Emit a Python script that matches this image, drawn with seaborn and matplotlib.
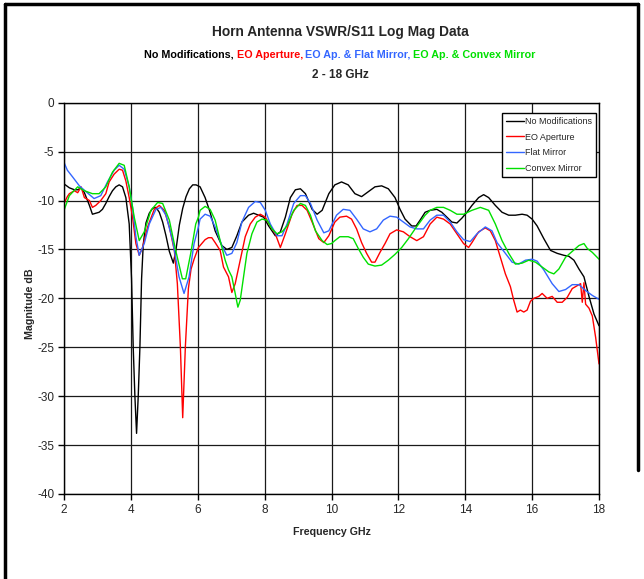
import pandas as pd
import matplotlib.pyplot as plt
import seaborn as sns
from matplotlib.lines import Line2D

# ---- data (GHz, dB) ----
no_mod_freq = [2.0, 2.16, 2.31, 2.41, 2.51, 2.61, 2.76, 2.85, 2.95, 3.05, 3.15, 3.25, 3.35, 3.45,
               3.55, 3.65, 3.75, 3.85, 3.95, 4.02, 4.07, 4.12, 4.17, 4.22, 4.27, 4.32, 4.37, 4.45,
               4.55, 4.65, 4.75, 4.85, 4.95, 5.05, 5.15, 5.27, 5.35, 5.45, 5.55, 5.65, 5.75, 5.85,
               5.95, 6.07, 6.22, 6.37, 6.52, 6.72, 6.87, 7.02, 7.17, 7.32, 7.52, 7.67, 7.82, 7.97,
               8.12, 8.32, 8.47, 8.62, 8.77, 8.92, 9.07, 9.22, 9.42, 9.57, 9.72, 9.92, 10.1, 10.3,
               10.5, 10.7, 10.9, 11.1, 11.3, 11.5, 11.7, 11.9, 12.05, 12.2, 12.4, 12.53, 12.65,
               12.8, 12.95, 13.15, 13.3, 13.45, 13.6, 13.75, 13.9, 14.05, 14.2, 14.4, 14.55, 14.7,
               14.9, 15.1, 15.3, 15.5, 15.7, 15.85, 16.0, 16.15, 16.35, 16.55, 16.75, 16.95, 17.1,
               17.25, 17.4, 17.55, 17.7, 17.85, 18.0]
no_mod_db = [-8.3, -8.7, -8.9, -8.9, -8.7, -9.2, -10.5, -11.4, -11.3, -11.2, -10.9, -10.3, -9.6, -9.0,
             -8.6, -8.4, -8.6, -9.7, -12.4, -18.0, -25.0, -30.0, -33.8, -30.0, -25.0, -18.0, -14.5, -12.3,
             -11.3, -10.8, -10.7, -11.2, -12.2, -13.6, -15.2, -16.4, -15.0, -12.5, -10.8, -9.6, -8.8, -8.4,
             -8.4, -8.6, -9.7, -11.2, -13.1, -14.6, -15.0, -14.8, -13.6, -12.2, -11.5, -11.3, -11.5, -11.7,
             -12.6, -13.6, -13.2, -11.7, -9.7, -8.9, -8.8, -9.3, -10.9, -11.4, -11.0, -9.3, -8.4, -8.1,
             -8.4, -9.3, -9.6, -9.1, -8.6, -8.5, -8.8, -9.7, -10.9, -11.9, -12.6, -12.6, -12.0,
             -11.2, -11.0, -10.9, -11.2, -11.7, -12.2, -12.3, -11.8, -11.2, -10.5, -9.7, -9.4, -9.7,
             -10.5, -11.2, -11.5, -11.5, -11.4, -11.5, -11.9, -12.6, -13.9, -15.1, -15.4, -15.6, -15.7,
             -16.1, -17.0, -17.8, -19.8, -21.6, -22.8]

eo_ap_freq = [2.0, 2.1, 2.16, 2.31, 2.41, 2.51, 2.61, 2.76, 2.85, 2.95, 3.1, 3.25, 3.35, 3.5, 3.65,
              3.75, 3.85, 3.95, 4.05, 4.15, 4.25, 4.35, 4.5, 4.7, 4.85, 5.0, 5.15, 5.3, 5.39, 5.48,
              5.55, 5.63, 5.72, 5.8, 5.89, 6.02, 6.12, 6.22, 6.32, 6.42, 6.52, 6.67, 6.77, 6.92,
              7.02, 7.12, 7.27, 7.42, 7.57, 7.72, 7.87, 8.02, 8.17, 8.32, 8.47, 8.62, 8.82, 8.97,
              9.12, 9.27, 9.42, 9.62, 9.77, 9.92, 10.1, 10.25, 10.45, 10.6, 10.75, 10.9, 11.05,
              11.2, 11.3, 11.45, 11.6, 11.75, 11.95, 12.15, 12.35, 12.55, 12.75, 12.95, 13.15,
              13.35, 13.55, 13.75, 13.95, 14.1, 14.2, 14.4, 14.6, 14.75, 14.9, 15.05, 15.2, 15.35,
              15.45, 15.55, 15.65, 15.75, 15.85, 15.95, 16.05, 16.2, 16.3, 16.45, 16.6, 16.75, 16.9,
              17.05, 17.2, 17.35, 17.45, 17.5, 17.55, 17.6, 17.7, 17.8, 17.9, 18.0]
eo_ap_db = [-10.3, -9.6, -9.3, -9.0, -9.2, -8.6, -9.7, -10.0, -10.7, -10.5, -10.0, -9.3, -8.1, -7.3, -6.8,
            -6.9, -8.0, -9.7, -11.7, -14.4, -15.6, -14.8, -12.7, -10.9, -10.5, -11.0, -12.7, -15.1, -18.5, -24.9,
            -32.2, -24.9, -19.0, -17.0, -16.0, -14.8, -14.4, -14.0, -13.8, -13.8, -14.3, -15.1, -16.8, -17.8,
            -19.4, -18.5, -16.1, -13.7, -12.4, -11.7, -11.4, -11.7, -12.6, -13.4, -14.8, -13.4, -11.4, -10.5,
            -10.5, -11.0, -12.2, -13.9, -14.3, -13.6, -12.2, -11.7, -11.6, -11.9, -12.9, -14.3, -15.4,
            -16.3, -16.3, -15.3, -14.4, -13.4, -13.0, -13.2, -13.7, -14.1, -13.7, -12.4, -11.7,
            -11.9, -12.4, -13.4, -14.4, -14.8, -14.3, -13.2, -12.8, -13.1, -14.1, -15.8, -17.5, -18.8,
            -20.2, -21.4, -21.2, -21.4, -21.2, -20.3, -20.0, -19.8, -19.5, -20.0, -19.8, -20.4, -20.4,
            -19.9, -19.0, -18.7, -18.5, -20.4, -18.4, -20.6, -21.0, -21.8, -24.0, -26.7]

flat_freq = [2.0, 2.1, 2.26, 2.46, 2.66, 2.9, 3.1, 3.3, 3.5, 3.65, 3.8, 3.95, 4.05, 4.15, 4.25, 4.4,
             4.55, 4.75, 4.9, 5.05, 5.25, 5.44, 5.59, 5.74, 5.89, 6.02, 6.07, 6.22, 6.37, 6.52, 6.72,
             6.87, 7.02, 7.17, 7.32, 7.52, 7.72, 7.87, 8.02, 8.17, 8.37, 8.52, 8.67, 8.87, 9.07, 9.22,
             9.37, 9.57, 9.77, 9.92, 10.15, 10.35, 10.55, 10.75, 10.95, 11.15, 11.35, 11.55, 11.75,
             11.95, 12.15, 12.35, 12.55, 12.75, 12.95, 13.15, 13.35, 13.55, 13.75, 13.95, 14.15,
             14.35, 14.6, 14.8, 14.95, 15.2, 15.4, 15.6, 15.8, 16.0, 16.15, 16.35, 16.6, 16.8, 17.0,
             17.2, 17.4, 17.6, 17.8, 18.0]
flat_db = [-6.1, -6.9, -7.6, -8.5, -9.1, -9.8, -9.5, -8.1, -6.9, -6.4, -6.8, -8.6, -10.7, -13.7, -15.6, -14.4,
           -12.4, -10.9, -10.7, -11.5, -14.1, -17.8, -19.5, -17.8, -14.4, -12.7, -11.9, -11.4, -11.6, -12.7, -14.6,
           -15.6, -15.4, -14.3, -12.2, -10.7, -10.1, -10.2, -11.0, -12.4, -13.6, -13.6, -12.4, -10.3, -9.5, -9.5,
           -10.3, -12.0, -13.3, -13.1, -11.5, -10.9, -11.0, -11.9, -12.9, -13.2, -12.9, -12.0, -11.6,
           -11.7, -12.2, -12.7, -12.9, -12.9, -12.0, -11.5, -11.5, -12.2, -13.2, -14.0, -14.2,
           -13.4, -12.7, -13.1, -14.3, -15.4, -16.3, -16.5, -16.1, -16.0, -16.2, -17.1, -18.5, -19.3, -19.1,
           -18.6, -18.6, -19.2, -19.7, -20.1]

convex_freq = [2.0, 2.16, 2.41, 2.61, 2.85, 3.05, 3.25, 3.45, 3.65, 3.8, 3.95, 4.1, 4.25, 4.4, 4.6,
               4.8, 4.95, 5.15, 5.34, 5.54, 5.64, 5.79, 5.94, 6.02, 6.07, 6.22, 6.37, 6.52, 6.67,
               6.82, 6.92, 7.02, 7.12, 7.2, 7.27, 7.37, 7.47, 7.62, 7.77, 7.92, 8.07, 8.22, 8.37,
               8.52, 8.67, 8.87, 9.07, 9.22, 9.37, 9.52, 9.72, 9.87, 10.0, 10.1, 10.25, 10.5, 10.65,
               10.8, 10.95, 11.1, 11.3, 11.5, 11.7, 11.9, 12.1, 12.3, 12.5, 12.65, 12.8, 12.95,
               13.15, 13.35, 13.55, 13.75, 13.95, 14.2, 14.45, 14.7, 14.9, 15.1, 15.3, 15.5, 15.7,
               15.9, 16.1, 16.3, 16.5, 16.65, 16.8, 17.0, 17.2, 17.4, 17.55, 17.65, 17.8, 18.0]
convex_db = [-11.0, -9.5, -8.6, -9.0, -9.3, -9.3, -8.6, -7.1, -6.2, -6.4, -8.6, -11.7, -14.1, -13.2, -11.0,
             -10.2, -10.3, -12.0, -15.1, -18.0, -18.0, -15.4, -12.4, -11.7, -11.0, -10.6, -10.9, -12.0, -14.1,
             -16.1, -17.1, -17.8, -19.5, -20.9, -20.2, -17.8, -15.4, -13.4, -12.2, -11.9, -12.0, -12.9, -13.4,
             -13.2, -12.6, -11.0, -10.3, -10.5, -11.5, -13.1, -14.1, -14.5, -14.4, -14.1, -13.7, -13.7, -13.9,
             -14.9, -15.8, -16.5, -16.7, -16.6, -16.1, -15.5, -14.8, -13.9, -12.9, -12.2, -11.5, -11.0,
             -10.7, -10.7, -11.0, -11.4, -11.4, -11.0, -10.7, -11.0, -12.4, -14.1, -15.4, -16.5, -16.4,
             -16.1, -16.3, -16.8, -17.3, -17.5, -17.0, -15.8, -15.2, -14.6, -14.4, -14.9, -15.3, -16.0]

series_names = ['No Modifications', 'EO Aperture', 'Flat Mirror', 'Convex Mirror']
series_colors = ['#000000', '#FF0000', '#3366FF', '#00E000']

x_ticks = [2, 4, 6, 8, 10, 12, 14, 16, 18]
y_ticks = [0, -5, -10, -15, -20, -25, -30, -35, -40]

subtitle_parts = ['No Modifications,', 'EO Aperture,', 'EO Ap. & Flat Mirror,', 'EO Ap. & Convex Mirror']

# long table for seaborn
chart_data = pd.concat([
    pd.DataFrame({'freq': no_mod_freq, 'db': no_mod_db, 'series': series_names[0]}),
    pd.DataFrame({'freq': eo_ap_freq, 'db': eo_ap_db, 'series': series_names[1]}),
    pd.DataFrame({'freq': flat_freq, 'db': flat_db, 'series': series_names[2]}),
    pd.DataFrame({'freq': convex_freq, 'db': convex_db, 'series': series_names[3]}),
], ignore_index=True)

sns.set_style('white')
plt.rcParams['font.family'] = ['Liberation Sans', 'DejaVu Sans']
plt.rcParams['axes.unicode_minus'] = False

W, H = 644, 579
fig = plt.figure(figsize=(W / 100, H / 100), dpi=100)
ax = fig.add_axes([64 / W, 1 - 494 / H, (599 - 64) / W, (494 - 102.7) / H])

sns.lineplot(data=chart_data, x='freq', y='db', hue='series',
             hue_order=series_names, palette=dict(zip(series_names, series_colors)),
             estimator=None, sort=False, linewidth=1, ax=ax, legend=False)

ax.set_xlim(2, 18)
ax.set_ylim(-40, 0)
ax.set_xticks(x_ticks)
ax.set_yticks(y_ticks)
ax.tick_params(axis='both', labelsize=8.5, direction='out', length=4, width=1,
               color='black', left=True, bottom=True, pad=3)
ax.grid(True, color='#1a1a1a', lw=0.9)
for sp in ax.spines.values():
    sp.set_color('black')
    sp.set_linewidth(1)

ax.set_xlabel('Frequency GHz', fontsize=7.7, fontweight='bold')
ax.set_ylabel('Magnitude dB', fontsize=7.7, fontweight='bold')
ax.xaxis.set_label_coords(0.5, (494 - 527) / 391.3)
ax.yaxis.set_label_coords((35 - 64) / 535, (494 - 304) / 391.3)

handles = [Line2D([], [], color=c, lw=1) for c in series_colors]
leg = ax.legend(handles, series_names, loc='upper right', bbox_to_anchor=(0.9944, 0.9744),
                borderaxespad=0, fontsize=6.5, handlelength=2.0, handletextpad=0.1,
                labelspacing=0.75, borderpad=0.45, fancybox=False, framealpha=1)
leg.get_frame().set_edgecolor('black')
leg.get_frame().set_linewidth(1)

# titles
cx = 340 / W
fig.text(cx, 1 - 32 / H, 'Horn Antenna VSWR/S11 Log Mag Data', ha='center', va='center',
         fontsize=9.9, fontweight='bold')
fig.text(cx, 1 - 75 / H, '2 - 18 GHz', ha='center', va='center', fontsize=8.5, fontweight='bold')

renderer = fig.canvas.get_renderer()
pieces = []
for txt, col in zip(subtitle_parts, series_colors):
    pieces.append(fig.text(0, 1 - 54.5 / H, txt, color=col, ha='left', va='center',
                           fontsize=7.75, fontweight='bold'))
gap = 2.5
widths = [p.get_window_extent(renderer).width for p in pieces]
x = 340 - (sum(widths) + gap * (len(widths) - 1)) / 2
for p, w in zip(pieces, widths):
    p.set_x(x / W)
    x += w + gap

# outer frame
fig.add_artist(Line2D([5 / W, 5 / W], [0, 1 - 4 / H], transform=fig.transFigure, color='black', lw=2.5))
fig.add_artist(Line2D([5 / W, 638 / W], [1 - 4 / H, 1 - 4 / H], transform=fig.transFigure, color='black', lw=2.5))
fig.add_artist(Line2D([638 / W, 638 / W], [1 - 4 / H, 1 - 470 / H], transform=fig.transFigure, color='black', lw=2.5))

fig.savefig('out.png', dpi=100)
